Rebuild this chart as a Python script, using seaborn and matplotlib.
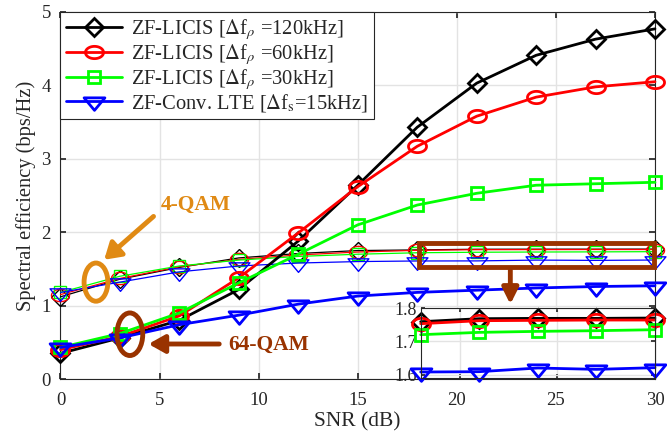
import numpy as np
import pandas as pd
import matplotlib
matplotlib.use("Agg")
import matplotlib.pyplot as plt
import seaborn as sns
from matplotlib.path import Path
from matplotlib.lines import Line2D
from matplotlib import patches

snr = [0, 3, 6, 9, 12, 15, 18, 21, 24, 27, 30]

# 64-QAM (thick lines)
se64_120 = [0.35, 0.56, 0.80, 1.22, 1.88, 2.64, 3.43, 4.03, 4.41, 4.63, 4.77]
se64_60 = [0.40, 0.58, 0.86, 1.38, 1.99, 2.62, 3.17, 3.58, 3.84, 3.98, 4.05]
se64_30 = [0.43, 0.62, 0.90, 1.31, 1.70, 2.10, 2.37, 2.53, 2.64, 2.66, 2.68]
se64_15 = [0.43, 0.56, 0.74, 0.87, 1.02, 1.13, 1.18, 1.21, 1.24, 1.26, 1.27]

# 4-QAM (thin lines)
se4_120 = [1.12, 1.36, 1.52, 1.65, 1.71, 1.75, 1.759, 1.768, 1.769, 1.769, 1.770]
se4_60 = [1.15, 1.37, 1.53, 1.63, 1.69, 1.73, 1.753, 1.762, 1.763, 1.764, 1.764]
se4_30 = [1.18, 1.40, 1.54, 1.62, 1.67, 1.70, 1.720, 1.727, 1.730, 1.732, 1.735]
se4_15 = [1.18, 1.32, 1.46, 1.54, 1.58, 1.60, 1.608, 1.609, 1.620, 1.616, 1.621]

labels = [r'ZF-LICIS [$\Delta$f$_{\rho}$ =120kHz]',
          r'ZF-LICIS [$\Delta$f$_{\rho}$ =60kHz]',
          r'ZF-LICIS [$\Delta$f$_{\rho}$ =30kHz]',
          r'ZF-Conv. LTE [$\Delta$f$_{\mathrm{s}}$=15kHz]']
colors = ['#000000', '#FF0000', '#00FF00', '#0000FF']

sns.set_theme(style='ticks')
plt.rcParams['font.family'] = ['Liberation Serif', 'DejaVu Serif']
plt.rcParams['mathtext.fontset'] = 'stix'

# custom markers (wide ellipse, wide down-triangle)
t = np.linspace(0, 2 * np.pi, 60)
ell = Path(np.column_stack([np.cos(t), 0.68 * np.sin(t)]), closed=True)
tri = Path([(-1, 0.35), (1, 0.35), (0, -0.85), (-1, 0.35)], closed=True)
markers = ['D', ell, 's', tri]
msizes = [9.5, 13, 8.5, 15]

df64 = pd.DataFrame({'snr': snr * 4,
                     'se': se64_120 + se64_60 + se64_30 + se64_15,
                     'grp': sum([[i] * len(snr) for i in range(4)], [])})
df4 = pd.DataFrame({'snr': snr * 4,
                    'se': se4_120 + se4_60 + se4_30 + se4_15,
                    'grp': sum([[i] * len(snr) for i in range(4)], [])})

fig = plt.figure(figsize=(6.67, 4.36), dpi=100)
ax = fig.add_axes([0.0907, 0.1307, 0.8913, 0.8418])

for i in range(4):
    d4 = df4[df4.grp == i]
    sns.lineplot(data=d4, x='snr', y='se', ax=ax, color=colors[i], lw=0.9,
                 marker=markers[i], markersize=msizes[i], markerfacecolor='none',
                 markeredgecolor=colors[i], markeredgewidth=1.0, clip_on=False,
                 zorder=3, legend=False)
for i in range(4):
    d64 = df64[df64.grp == i]
    sns.lineplot(data=d64, x='snr', y='se', ax=ax, color=colors[i], lw=2.0,
                 marker=markers[i], markersize=msizes[i], markerfacecolor='none',
                 markeredgecolor=colors[i], markeredgewidth=2.0, clip_on=False,
                 zorder=4, legend=False)

ax.set_xlim(0, 30)
ax.set_ylim(0, 5)
ax.set_xticks([0, 5, 10, 15, 20, 25, 30])
ax.set_yticks([0, 1, 2, 3, 4, 5])
ax.grid(True, color='#E3E3E3', lw=1.0)
ax.set_axisbelow(True)
ax.tick_params(direction='in', top=True, right=True, labelsize=13.5,
               length=4, color='#262626')
ax.tick_params(axis='x', pad=9)
ax.tick_params(axis='y', pad=7)
for s in ax.spines.values():
    s.set_color('#262626')
    s.set_linewidth(0.8)
ax.set_xlabel('SNR (dB)', fontsize=15.5, labelpad=3)
ax.set_ylabel('Spectral efficiency (bps/Hz)', fontsize=14.8, labelpad=4)

handles = [Line2D([], [], color=colors[i], lw=2.0, marker=markers[i],
                  markersize=msizes[i], markerfacecolor='none',
                  markeredgecolor=colors[i], markeredgewidth=2.0)
           for i in range(4)]
leg = ax.legend(handles, labels, loc='upper left', bbox_to_anchor=(0, 1),
                borderaxespad=0, fontsize=14.8, frameon=True, fancybox=False,
                edgecolor='#262626', framealpha=1, handlelength=2.75,
                labelspacing=0.0, handletextpad=0.45, borderpad=0.25)
leg.get_frame().set_linewidth(0.8)
leg.set_zorder(10)

brown = '#993300'
orange = '#E08A14'

# 4-QAM annotation
ax.add_patch(patches.Ellipse((1.79, 1.32), 1.2, 0.52, fill=False, ec=orange,
                             lw=3.5, zorder=6, clip_on=False))
ax.annotate('', xy=(2.1, 1.6), xytext=(4.8, 2.24),
            arrowprops=dict(arrowstyle='-|>,head_length=0.8,head_width=0.5',
                            color=orange, lw=3.5), zorder=6)
ax.text(5.05, 2.37, '4-QAM', color=orange, fontsize=15.5, fontweight='bold',
        va='center', ha='left', zorder=6)

# 64-QAM annotation
ax.add_patch(patches.Ellipse((3.5, 0.61), 1.3, 0.58, fill=False, ec=brown,
                             lw=3.5, zorder=6))
ax.annotate('', xy=(4.3, 0.477), xytext=(8.15, 0.477),
            arrowprops=dict(arrowstyle='-|>,head_length=0.8,head_width=0.45',
                            color=brown, lw=3.5), zorder=6)
ax.text(8.45, 0.46, '64-QAM', color=brown, fontsize=15.5, fontweight='bold',
        va='center', ha='left', zorder=6)

# zoom rectangle + arrow
ax.add_patch(patches.Rectangle((18.1, 1.52), 11.85, 0.33, fill=False, ec=brown,
                               lw=3.5, zorder=7, clip_on=False))
ax.annotate('', xy=(22.7, 0.98), xytext=(22.7, 1.52),
            arrowprops=dict(arrowstyle='-|>,head_length=0.8,head_width=0.4',
                            color=brown, lw=3.5), zorder=7)

# inset
axin = fig.add_axes([0.6307, 0.1330, 0.3513, 0.1605])
for i in range(4):
    d4 = df4[(df4.grp == i) & (df4.snr >= 18)]
    sns.lineplot(data=d4, x='snr', y='se', ax=axin, color=colors[i], lw=2.0,
                 marker=markers[i], markersize=msizes[i], markerfacecolor='none',
                 markeredgecolor=colors[i], markeredgewidth=2.0, clip_on=False,
                 legend=False)
axin.set_xlim(18, 30)
axin.set_ylim(1.59, 1.8)
axin.set_xticks([20, 25])
axin.set_xticklabels([])
axin.set_yticks([1.6, 1.7, 1.8])
axin.set_yticklabels(['1.6', '1.7', '1.8'])
axin.grid(True, color='#E3E3E3', lw=1.0)
axin.set_axisbelow(True)
axin.tick_params(direction='in', top=True, right=True, labelsize=13,
                 length=3, color='#262626', pad=3)
axin.set_xlabel('')
axin.set_ylabel('')
for s in axin.spines.values():
    s.set_color('#262626')
    s.set_linewidth(0.8)

fig.savefig('out.png', dpi=100)
